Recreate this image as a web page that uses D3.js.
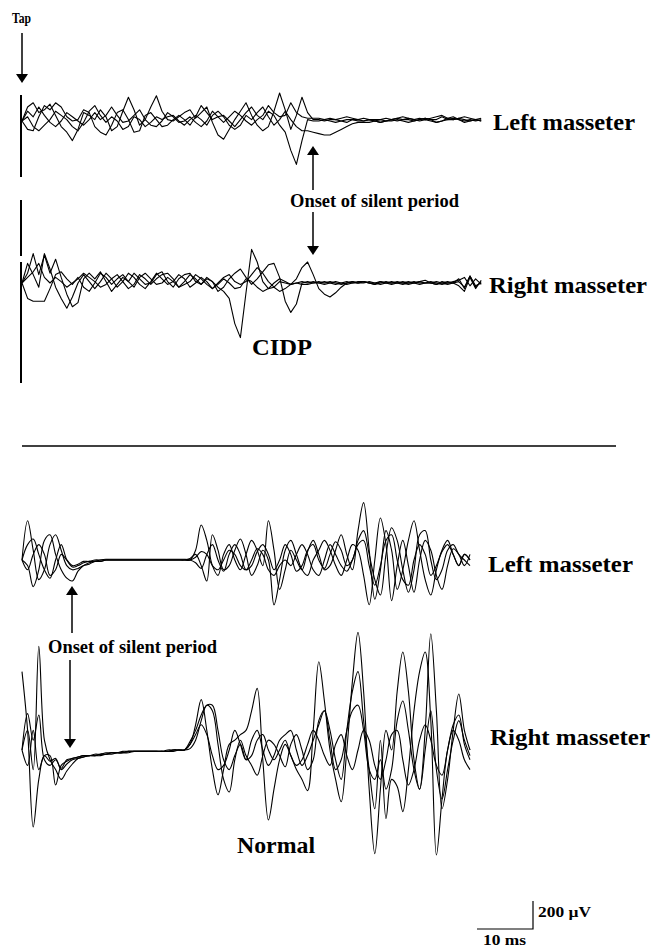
<!DOCTYPE html>
<html>
<head>
<meta charset="utf-8">
<script src="https://cdn.jsdelivr.net/npm/d3@7/dist/d3.min.js"></script>
<style>
  html, body { margin: 0; padding: 0; background: #fff; }
  svg text { font-family: "Liberation Serif", "Times New Roman", serif; font-weight: bold; fill: #000; }
</style>
</head>
<body>
<div id="chart"></div>
<script>
// time after the tap, ms (one sample per ms)
var cidpTime = d3.range(0, 83);
var normalTime = d3.range(0, 81);

// CIDP, left masseter, 4 sweeps (uV)
var cidpLeft1 = [0,100,130,60,80,120,40,-40,-80,-140,-60,60,40,10,80,30,-70,-40,70,170,80,-30,10,100,180,70,10,0,30,60,80,20,60,100,-10,-100,-130,-60,10,70,130,40,-30,-70,-40,70,200,80,-60,40,170,60,10,10,0,10,10,0,-10,10,10,0,10,10,10,0,10,20,10,10,0,10,20,10,10,30,10,10,20,10,0,10,0];
var cidpLeft2 = [0,-60,-70,30,110,80,130,100,30,0,10,80,60,-40,-80,-100,-30,60,80,10,-80,-70,40,60,10,-40,-30,10,40,10,-30,30,110,60,10,30,40,0,-40,10,60,100,40,10,70,40,-30,-80,-210,-310,-140,10,0,0,10,0,-10,0,10,10,0,0,10,0,-10,0,10,0,10,20,10,0,10,0,-10,0,10,20,10,0,10,0,10];
var cidpLeft3 = [0,30,-40,-70,-30,10,70,40,10,-40,-70,-10,70,110,40,-10,30,0,-60,-40,30,10,-40,-10,30,10,30,40,0,-30,10,40,10,-30,40,70,30,-30,-60,-30,40,10,60,100,30,-30,10,70,10,-40,-70,-70,-80,-90,-100,-100,-80,-60,-40,-20,-10,-10,-10,0,-10,0,0,10,0,-10,0,10,20,10,-10,0,20,30,10,-10,0,10,0];
var cidpLeft4 = [0,70,30,100,40,-10,-40,0,60,30,0,-30,10,60,10,40,100,40,-10,0,40,80,10,-30,-40,0,60,30,-10,0,30,-10,-40,0,70,30,-10,30,70,40,0,-30,10,40,110,60,30,40,130,60,30,20,20,20,10,20,10,20,30,20,10,20,10,0,10,20,10,20,30,20,10,20,10,20,30,40,20,10,20,30,20,10,20];

// CIDP, right masseter
var cidpRight1 = [0,70,210,60,200,70,170,40,-80,-170,-140,30,70,30,80,10,-60,-10,40,10,70,30,-10,0,60,80,10,-30,30,60,70,10,-10,30,10,-30,-60,-110,-290,-390,-70,240,150,10,-40,-30,10,0,-10,0,10,0,10,0,10,0,-10,0,10,0,0,10,0,-10,0,10,0,0,-10,0,10,0,0,10,0,-10,0,10,20,40,-20,30,-10];
var cidpRight2 = [0,-110,-130,-130,-130,-40,60,80,30,-10,40,-30,-60,0,70,40,-10,30,60,10,-30,40,70,30,-10,0,40,10,-30,10,60,30,-10,40,10,-60,-30,30,70,100,40,-10,30,80,130,140,40,-130,-210,-150,0,10,0,0,-10,0,10,0,-10,0,10,10,0,0,-10,0,10,0,0,10,0,-10,0,0,10,0,-10,0,-20,-60,40,-40,20];
var cidpRight3 = [0,140,60,-30,210,100,-30,-110,-180,-100,0,60,10,-40,10,70,30,-30,10,70,40,-10,-40,10,70,30,-10,10,60,30,-30,0,40,10,-40,-10,30,0,-40,-30,30,10,-30,-60,-40,0,30,10,-10,30,110,150,60,-40,-80,-100,-70,-30,0,10,0,10,0,-10,10,0,0,10,0,-10,0,10,20,0,-10,0,10,0,30,-40,50,-30,10];
var cidpRight4 = [0,40,80,140,40,0,40,10,-30,0,30,70,40,10,-30,-10,30,60,10,-40,-10,60,30,-10,30,60,70,30,-30,-10,10,60,30,-10,-40,0,40,60,10,-10,10,60,110,70,10,-30,-60,-40,-10,0,-10,-10,0,10,0,10,0,-10,0,10,0,0,10,0,10,0,-10,0,10,0,0,10,0,0,-10,10,0,0,10,-30,50,-20,0];

// Normal subject, left masseter
var normalLeft1 = [0,280,70,-140,-70,110,180,70,-40,-70,-60,-40,-30,-10,-10,0,0,0,0,0,0,0,0,0,0,0,0,0,0,0,0,70,250,140,-40,-110,40,110,0,-70,40,140,70,-40,280,70,-210,-70,70,0,-70,60,140,40,-70,-40,70,180,40,-70,210,410,70,-280,-70,210,70,-210,-70,140,280,70,-140,-250,-70,70,140,40,-40,40,0];
var normalLeft2 = [0,-40,-190,-70,140,180,40,-70,-130,-150,-80,-40,-20,-10,-10,0,0,0,0,0,0,0,0,0,0,0,0,0,0,0,10,40,-40,-150,180,70,-70,-40,70,150,40,-110,-40,70,0,-320,-140,70,140,40,-70,-110,0,70,140,70,-40,-110,0,110,70,-110,-320,0,300,110,-290,-40,140,-40,-230,0,140,70,-110,-210,-40,80,40,-40,40];
var normalLeft3 = [0,110,150,40,-70,-130,0,110,0,-50,-40,-20,-10,-10,0,5,5,5,5,5,5,5,5,5,5,5,5,5,5,5,0,-20,-60,40,110,0,-80,40,110,40,-70,-40,60,110,40,-70,0,110,40,-80,-40,70,110,0,-60,40,130,70,-40,0,140,210,40,-140,-250,40,230,140,-70,-230,-70,180,210,0,-140,-70,70,110,40,0,-40];
var normalLeft4 = [0,-70,40,110,40,-110,-70,40,0,-40,-30,-10,-10,0,0,0,0,0,0,0,0,0,0,0,0,0,0,0,0,0,0,20,60,40,-40,-70,0,70,40,-40,-70,0,80,40,-70,-110,-40,0,-40,40,110,40,-70,-110,0,110,40,-40,-80,0,110,140,-40,-180,-40,140,180,0,-140,-180,0,110,40,-110,-40,60,110,40,-40,40,0];

// Normal subject, right masseter
var normalRight1 = [0,140,-140,740,70,-70,-140,-210,-150,-100,-60,-50,-40,-40,-40,-30,-30,-20,-20,-20,-10,-10,-10,-10,-10,-10,-10,-10,0,0,40,180,360,140,-140,-320,-140,40,70,110,140,280,440,-70,-500,-280,-70,40,-40,-140,-210,-290,140,630,350,0,-210,-370,0,490,840,420,-280,-740,-280,140,0,420,700,420,-70,-280,140,830,280,-420,-210,140,400,140,0];
var normalRight2 = [560,140,-550,-210,-40,-40,-250,-110,-80,-60,-50,-40,-40,-30,-30,-20,-20,-20,-10,-10,-10,-10,-10,-10,-10,-10,0,0,0,0,10,70,210,320,280,40,-210,-300,-70,70,-40,-110,-180,-40,70,40,-40,-120,40,110,0,-140,-70,210,280,140,-70,-210,140,420,560,210,-140,-420,70,-490,-210,-260,-440,-140,280,560,700,210,-750,-350,0,140,70,-70,-140];
var normalRight3 = [0,260,70,250,-70,-110,-70,-130,-70,-60,-50,-40,-40,-40,-30,-30,-20,-20,-20,-10,-10,-10,-10,-10,-10,-10,-10,0,0,0,60,140,250,320,320,140,-70,-140,-40,40,-70,70,140,0,-110,-40,70,110,140,0,-110,-40,70,180,280,70,-140,-70,140,280,320,140,-140,-210,-70,-280,-140,210,350,140,-140,-280,0,280,-140,-350,-140,70,210,70,-40];
var normalRight4 = [0,-110,140,-140,-40,-80,-60,-140,-100,-70,-60,-50,-40,-40,-30,-30,-20,-20,-20,-10,-10,-10,-10,-10,-10,-10,-10,0,0,0,40,110,180,110,-40,-140,-110,0,140,40,-70,-40,70,110,0,-70,0,70,-40,-110,-70,40,140,70,-40,-110,40,110,-40,-140,0,140,70,-110,-210,-70,110,140,-70,-250,-140,70,180,70,-110,-180,0,180,250,40,-70];

var scaleBar = { ms: 10, uV: 200 };

var svg = d3.select("#chart")
    .append("svg")
    .attr("width", 653)
    .attr("height", 949);

// 10 ms = 56 px, 200 uV = 28 px (from the calibration bar)
var xTime = d3.scaleLinear().domain([0, 10]).range([22, 78]);
function yAmp(base) {
    return d3.scaleLinear().domain([0, 200]).range([base, base - 28]);
}

function drawSweeps(time, sweeps, base, curve) {
    var y = yAmp(base);
    var line = d3.line()
        .x(function (d, i) { return xTime(time[i]); })
        .y(function (d) { return y(d); })
        .curve(curve);
    svg.append("g")
        .selectAll("path")
        .data(sweeps)
        .enter()
        .append("path")
        .attr("d", line)
        .attr("fill", "none")
        .attr("stroke", "#000")
        .attr("stroke-width", 1.1)
        .attr("stroke-linejoin", "round");
}

function label(txt, x, y, size, len) {
    svg.append("text")
        .attr("x", x)
        .attr("y", y)
        .style("font-size", size + "px")
        .attr("textLength", len)
        .attr("lengthAdjust", "spacingAndGlyphs")
        .text(txt);
}

// vertical arrow, head at y2
function arrow(x, y1, y2) {
    var dir = y2 > y1 ? 1 : -1;
    svg.append("line")
        .attr("x1", x).attr("x2", x)
        .attr("y1", y1).attr("y2", y2 - dir * 8)
        .attr("stroke", "#000")
        .attr("stroke-width", 1.5);
    svg.append("path")
        .attr("d", "M" + (x - 6) + "," + (y2 - dir * 9) + "L" + (x + 6) + "," + (y2 - dir * 9) + "L" + x + "," + y2 + "Z")
        .attr("fill", "#000");
}

// CIDP panel
drawSweeps(cidpTime, [cidpLeft1, cidpLeft2, cidpLeft3, cidpLeft4], 121, d3.curveLinear);
drawSweeps(cidpTime, [cidpRight1, cidpRight2, cidpRight3, cidpRight4], 283, d3.curveLinear);

// tap artifact
[[95, 177], [200, 256], [262, 383]].forEach(function (seg) {
    svg.append("line")
        .attr("x1", xTime(0) - 1).attr("x2", xTime(0) - 1)
        .attr("y1", seg[0]).attr("y2", seg[1])
        .attr("stroke", "#000")
        .attr("stroke-width", 2);
});

label("Tap", 12, 23, 14, 19);
arrow(22, 33, 83);

label("Left masseter", 493, 130, 23, 142);
label("Right masseter", 489, 293, 24, 158);
label("CIDP", 252, 355, 23, 60);
label("Onset of silent period", 290, 207, 18, 169);
arrow(313, 190, 146);
arrow(313, 212, 255);

// separator
svg.append("line")
    .attr("x1", 22).attr("x2", 616)
    .attr("y1", 446).attr("y2", 446)
    .attr("stroke", "#000")
    .attr("stroke-width", 1.5);

// Normal panel
drawSweeps(normalTime, [normalLeft1, normalLeft2, normalLeft3, normalLeft4], 560, d3.curveCatmullRom);
drawSweeps(normalTime, [normalRight1, normalRight2, normalRight3, normalRight4], 750, d3.curveCatmullRom);

label("Left masseter", 488, 572, 23, 145);
label("Right masseter", 490, 745, 24, 160);
label("Normal", 237, 853, 23, 78);
label("Onset of silent period", 48, 653, 18, 169);
arrow(72, 633, 586);
arrow(70, 660, 748);

// calibration bar
var barX = 533, barY = 929;
var barW = xTime(scaleBar.ms) - xTime(0);
var barH = yAmp(0)(0) - yAmp(0)(scaleBar.uV);
svg.append("path")
    .attr("d", "M" + (barX - barW) + "," + barY + "H" + barX + "V" + (barY - barH))
    .attr("fill", "none")
    .attr("stroke", "#000")
    .attr("stroke-width", 1.2);
label("200\u00a0\u00b5V", 538, 917, 14, 53);
label("10\u00a0ms", 483, 945, 14, 43);
</script>
</body>
</html>
